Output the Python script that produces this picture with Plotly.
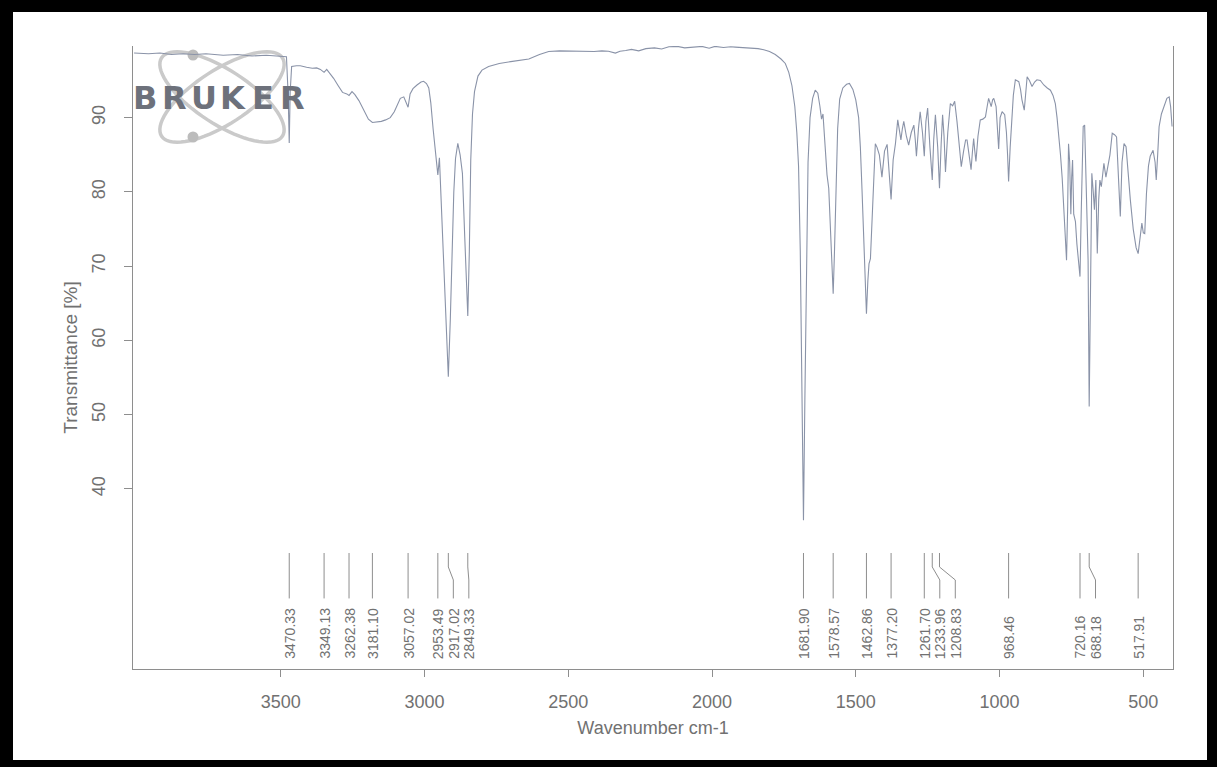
import math
import plotly.graph_objects as go

# ---------------- spectrum (wavenumber cm-1 -> transmittance %) ----------------
wavenumber = [
    4010, 3960, 3920, 3880, 3840, 3800, 3760, 3700, 3650, 3600, 3550, 3500, 3480,
    3474, 3470.33, 3467, 3462, 3445, 3432, 3410, 3390, 3375, 3362, 3349.13, 3340,
    3328, 3316, 3300, 3285, 3270, 3262.38, 3252, 3242, 3228, 3212, 3195, 3181.10,
    3165, 3150, 3135, 3119, 3105, 3095, 3084, 3072, 3064, 3057.02, 3050, 3040,
    3026, 3012, 3003, 2993, 2985, 2978, 2970, 2962, 2953.49, 2948, 2941, 2933,
    2925, 2917.02, 2910, 2904, 2898, 2892, 2884, 2876, 2868, 2860, 2854, 2849.33,
    2844, 2839, 2833, 2826, 2814, 2800, 2777, 2740, 2700, 2660, 2637, 2600, 2568,
    2530, 2490, 2450, 2410, 2383, 2360, 2336, 2320, 2300, 2280, 2255, 2230, 2200,
    2175, 2150, 2120, 2095, 2065, 2035, 2010, 1990, 1960, 1935, 1919, 1890, 1860,
    1840, 1820, 1800, 1780, 1760, 1745, 1733, 1722, 1712, 1705, 1699, 1693, 1687,
    1681.90, 1677, 1672, 1666, 1659, 1650, 1641, 1632, 1625, 1619, 1614, 1607,
    1600, 1594, 1587, 1582, 1578.57, 1574, 1569, 1563, 1556, 1545, 1532, 1522,
    1510, 1500, 1490, 1484, 1478, 1472, 1467, 1462.86, 1458, 1454, 1449, 1444,
    1438, 1432, 1426, 1418, 1409, 1400, 1391, 1384, 1377.20, 1370, 1362, 1354,
    1348, 1343, 1338, 1333, 1324, 1316, 1307, 1298, 1293, 1289, 1282, 1276, 1268,
    1261.70, 1256, 1250, 1242, 1233.96, 1229, 1223, 1215, 1208.83, 1203, 1198,
    1193, 1188, 1180, 1171, 1163, 1156, 1148, 1142, 1133, 1125, 1118, 1113, 1106,
    1099, 1094, 1090, 1086, 1082, 1075, 1067, 1058, 1049, 1043, 1038, 1033, 1029,
    1024, 1020, 1012, 1007, 1003, 998, 991, 982, 976, 972, 968.46, 963, 959, 952,
    945, 939, 933, 927, 922, 914, 909, 904, 896, 887, 878, 870, 858, 846, 834,
    823, 814, 806, 800, 794, 788, 782, 776, 771, 767, 763, 760, 756, 752, 749,
    746, 742, 736, 731, 725, 720.16, 716, 712, 709, 704, 700, 696, 692, 688.18,
    684, 679, 674, 670, 665, 660, 655, 651, 646, 641, 637, 630, 623, 616, 608,
    600, 593, 586, 580, 574, 567, 560, 552, 545, 535, 525, 517.91, 512, 505, 500,
    495, 489, 482, 476, 466, 459, 455, 450, 445, 437, 429, 418, 410, 405, 400,
]
transmittance = [
    98.7, 98.6, 98.7, 98.5, 98.6, 98.5, 98.6, 98.4, 98.5, 98.3, 98.4, 98.2, 98.2,
    93.0, 86.6, 93.5, 96.9, 97.0, 97.0, 96.8, 96.65, 96.7, 96.5, 96.1, 96.5,
    95.9, 95.3, 94.3, 93.4, 93.2, 93.0, 93.5, 93.1, 92.3, 91.0, 89.8, 89.35,
    89.4, 89.5, 89.7, 90.0, 90.8, 91.6, 92.6, 92.8, 92.0, 91.4, 93.2, 93.9,
    94.4, 94.8, 94.9, 94.6, 94.0, 92.0, 88.5, 85.0, 82.3, 84.6, 78.0, 70.8,
    62.0, 55.1, 63.0, 72.0, 80.0, 84.5, 86.55, 85.0, 82.5, 74.0, 67.0, 63.3,
    72.0, 84.3, 90.5, 93.5, 95.6, 96.4, 96.9, 97.3, 97.55, 97.8, 97.9, 98.5, 98.9,
    99.0, 98.95, 99.0, 98.9, 99.0, 98.95, 98.7, 98.95, 99.05, 99.2, 99.0, 99.3, 99.4,
    99.25, 99.55, 99.6, 99.4, 99.55, 99.6, 99.35, 99.6, 99.45, 99.55, 99.5, 99.45, 99.4,
    99.3, 99.15, 98.9, 98.5, 97.9, 97.3, 96.1, 94.3, 91.5, 88.0, 83.5, 72.0, 54.0,
    35.8, 52.0, 70.0, 84.0, 90.0, 92.6, 93.7, 93.3, 91.6, 89.8, 90.5, 86.0,
    82.3, 80.5, 74.0, 69.0, 66.3, 72.0, 81.0, 88.5, 92.5, 94.0, 94.5, 94.6,
    93.8, 92.4, 90.0, 86.0, 80.0, 73.0, 67.0, 63.6, 68.0, 70.3, 71.0, 76.0,
    82.0, 86.5, 86.0, 85.0, 82.0, 85.5, 86.4, 83.0, 79.0, 84.3, 86.5, 89.7,
    88.0, 87.0, 88.5, 89.5, 87.5, 86.3, 88.0, 89.0, 87.0, 84.8, 88.5, 90.8, 88.0,
    84.8, 89.5, 91.3, 86.0, 81.6, 87.0, 90.4, 86.0, 80.5, 86.5, 90.4,
    87.5, 82.7, 88.0, 91.9, 91.6, 92.2, 89.5, 87.0, 83.4, 85.5, 87.0, 87.0, 85.0,
    83.0, 85.5, 87.2, 85.5, 84.1, 87.5, 89.7, 89.8, 90.1, 91.5, 92.6, 92.0, 91.5,
    92.4, 92.6, 91.5, 89.0, 85.8, 90.0, 90.8, 90.4, 88.0, 85.0, 81.4, 86.0, 88.8, 93.0,
    95.1, 95.0, 94.85, 93.8, 92.4, 91.0, 93.5, 95.5, 95.0, 94.2, 94.8, 95.1, 95.0, 94.4, 94.0,
    93.7, 93.0, 91.9, 90.0, 87.9, 85.0, 81.8, 77.0, 72.5, 70.8, 78.0, 86.5, 84.0, 77.0, 82.0,
    84.3, 77.0, 76.0, 73.0, 71.0, 68.6, 77.0, 86.0, 88.8, 89.0, 83.0, 77.0, 70.8, 51.1,
    70.8, 82.5, 80.0, 77.6, 81.6, 71.7, 79.0, 81.6, 80.7, 82.5, 83.85, 82.0, 83.5, 85.0, 87.9,
    87.7, 87.4, 82.0, 76.7, 84.0, 86.5, 86.1, 82.0, 78.9, 75.0, 72.5, 71.7, 73.5, 75.8, 74.5,
    74.4, 79.8, 83.5, 84.8, 85.6, 84.0, 81.6, 85.0, 88.8, 90.5, 91.5, 92.6, 92.8, 91.5, 88.8,
]

# picked peak positions (cm-1)
peak_wavenumbers = [
    3470.33, 3349.13, 3262.38, 3181.10, 3057.02, 2953.49, 2917.02, 2849.33,
    1681.90, 1578.57, 1462.86, 1377.20, 1261.70, 1233.96, 1208.83, 968.46,
    720.16, 688.18, 517.91,
]

x_tick_values = [3500, 3000, 2500, 2000, 1500, 1000, 500]
y_tick_values = [40, 50, 60, 70, 80, 90]

# ---------------- page geometry ----------------
W, H = 1217, 767
PL, PR, PT, PB = 133, 1173, 46, 669          # plot area in pixels
X_RANGE = [4013.7, 396.7]
Y_RANGE = [15.76, 99.65]

TEXT = "#717171"
AXIS = "#8e8e8e"
TRACE = "#8a93a8"
FONT = "Liberation Sans, Arial, sans-serif"


def to_paper(px, py):
    return (px - PL) / (PR - PL), (PB - py) / (PB - PT)


fig = go.Figure()
fig.add_trace(go.Scatter(
    x=wavenumber, y=transmittance, mode="lines",
    line=dict(color=TRACE, width=1.1), hoverinfo="skip", showlegend=False,
))

shapes = []
annotations = []

# ---------------- peak markers with staggered labels ----------------
px_per_cm = (PR - PL) / (X_RANGE[0] - X_RANGE[1])
min_gap = 15.5 / px_per_cm
label_pos = []
for w in peak_wavenumbers:
    pos = w
    if label_pos and label_pos[-1] - pos < min_gap:
        pos = label_pos[-1] - min_gap
    label_pos.append(pos)

y_top, y_bend0, y_bend1, y_bot, y_lab = 31.38, 29.5, 27.75, 25.26, 16.97
for w, lw in zip(peak_wavenumbers, label_pos):
    if abs(w - lw) < 1e-6:
        path = f"M {w},{y_top} L {w},{y_bot}"
    else:
        path = (f"M {w},{y_top} L {w},{y_bend0} "
                f"L {lw},{y_bend1} L {lw},{y_bot}")
    shapes.append(dict(type="path", xref="x", yref="y", path=path,
                       line=dict(color=AXIS, width=1)))
    annotations.append(dict(
        x=lw, y=y_lab, xref="x", yref="y", text=f"{w:.2f}",
        textangle=-90, xanchor="center", yanchor="bottom", showarrow=False,
        font=dict(family=FONT, size=14, color=TEXT), borderpad=0,
    ))

# ---------------- instrument logo ----------------
def ellipse_path(cx, cy, a, b, deg, n=72):
    th = math.radians(deg)
    pts = []
    for i in range(n):
        t = 2 * math.pi * i / n
        ex = cx + a * math.cos(t) * math.cos(th) - b * math.sin(t) * math.sin(th)
        ey = cy + a * math.cos(t) * math.sin(th) + b * math.sin(t) * math.cos(th)
        pts.append(to_paper(ex, ey))
    return "M " + " L ".join(f"{x:.5f},{y:.5f}" for x, y in pts) + " Z"


for ang in (33, -33):
    shapes.append(dict(type="path", xref="paper", yref="paper", layer="below",
                       path=ellipse_path(222, 97, 72, 27, ang),
                       line=dict(color="#cacaca", width=3.5)))
for (dx, dy) in ((193, 55), (193, 137)):
    x0, y0 = to_paper(dx - 5.5, dy + 5.5)
    x1, y1 = to_paper(dx + 5.5, dy - 5.5)
    shapes.append(dict(type="circle", xref="paper", yref="paper", layer="below",
                       x0=x0, y0=y0, x1=x1, y1=y1,
                       fillcolor="#bcbcbc", line=dict(width=0)))

brand = "BRUKER"
for i, ch in enumerate(brand):
    bx, by = to_paper(144.5 + 29.6 * i, 98)
    annotations.append(dict(
        x=bx, y=by, xref="paper", yref="paper", text=ch, showarrow=False,
        xanchor="center", yanchor="middle",
        font=dict(family="DejaVu Sans, sans-serif", size=32, color="#6d717b",
                  weight="bold"),
    ))

# ---------------- black page frame ----------------
for (x0, y0, x1, y1) in ((0, 0, W, 12), (0, 760, W, H), (0, 0, 13, H), (1207, 0, W, H)):
    a0, b0 = to_paper(x0, y1)
    a1, b1 = to_paper(x1, y0)
    shapes.append(dict(type="rect", xref="paper", yref="paper", layer="above",
                       x0=a0, y0=b0, x1=a1, y1=b1,
                       fillcolor="black", line=dict(width=0)))

fig.update_layout(
    width=W, height=H, autosize=False,
    margin=dict(l=PL, r=W - PR, t=PT, b=H - PB, pad=0),
    paper_bgcolor="white", plot_bgcolor="rgba(0,0,0,0)",
    font=dict(family=FONT, color=TEXT),
    shapes=shapes, annotations=annotations, showlegend=False,
    xaxis=dict(
        range=X_RANGE, tickvals=x_tick_values, ticks="outside", ticklen=7,
        tickcolor=AXIS, showline=True, linecolor=AXIS, linewidth=1,
        showgrid=False, zeroline=False, mirror=False,
        tickfont=dict(family=FONT, size=18, color=TEXT), ticklabelstandoff=9,
        title=dict(text="Wavenumber cm-1", font=dict(family=FONT, size=18, color=TEXT),
                   standoff=10),
    ),
    yaxis=dict(
        range=Y_RANGE, tickvals=y_tick_values, ticks="outside", ticklen=8,
        tickcolor=AXIS, showline=True, linecolor=AXIS, linewidth=1, mirror=True,
        showgrid=False, zeroline=False, tickangle=-90,
        tickfont=dict(family=FONT, size=18, color=TEXT), ticklabelstandoff=12,
        title=dict(text="Transmittance [%]", font=dict(family=FONT, size=19, color=TEXT),
                   standoff=6),
    ),
)

fig.write_html("out.html", config={"displayModeBar": False})
